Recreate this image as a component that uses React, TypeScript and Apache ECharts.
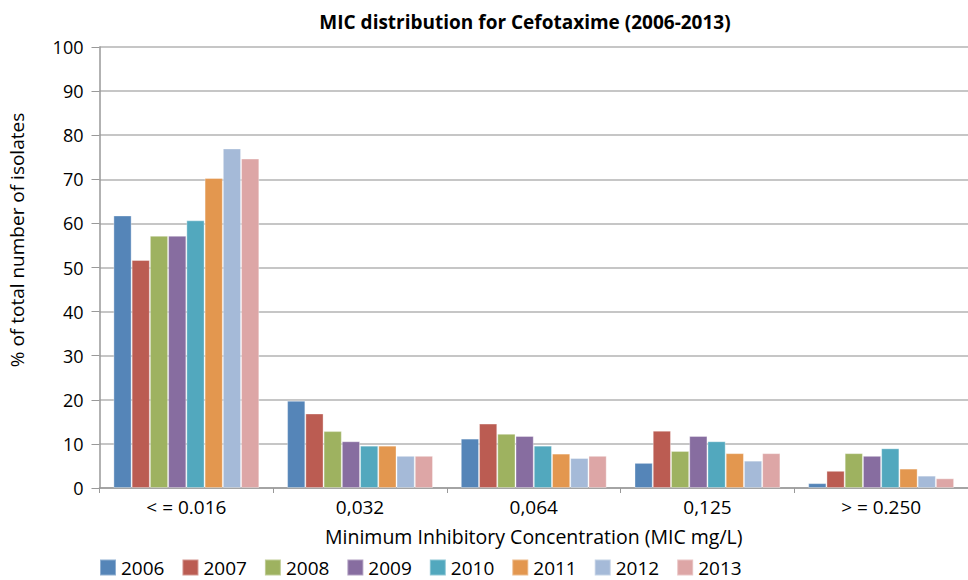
import React, { useEffect, useRef } from "react";
import * as echarts from "echarts";

const categories = ["< = 0.016", "0,032", "0,064", "0,125", "> = 0.250"];
const years = ["2006", "2007", "2008", "2009", "2010", "2011", "2012", "2013"];
const v2006 = [61.8, 19.8, 11.2, 5.7, 1.1];
const v2007 = [51.7, 16.9, 14.6, 13.0, 3.9];
const v2008 = [57.2, 12.9, 12.3, 8.4, 7.9];
const v2009 = [57.2, 10.6, 11.8, 11.8, 7.3];
const v2010 = [60.7, 9.6, 9.6, 10.6, 9.0];
const v2011 = [70.3, 9.6, 7.8, 7.9, 4.4];
const v2012 = [77.0, 7.3, 6.8, 6.2, 2.8];
const v2013 = [74.7, 7.3, 7.3, 7.9, 2.2];
const seriesValues = [v2006, v2007, v2008, v2009, v2010, v2011, v2012, v2013];
const colors = ["#5585B8", "#BB5C52", "#9EB260", "#876DA0", "#52A8BE", "#E3974F", "#A5BAD8", "#DDA6A6"];
const yTicks = { min: 0, max: 100, interval: 10 };

const FONT = "'Open Sans', sans-serif";

export default function App() {
  const ref = useRef<HTMLDivElement>(null);
  useEffect(() => {
    if (!ref.current) return;
    const chart = echarts.init(ref.current, null, { renderer: "svg" });
    chart.setOption({
      animation: false,
      backgroundColor: "#ffffff",
      textStyle: { fontFamily: FONT },
      title: {
        text: "MIC distribution for Cefotaxime (2006-2013)",
        left: 520,
        textAlign: "center",
        top: 7,
        textStyle: { fontFamily: FONT, fontSize: 19, fontWeight: "bold", color: "#000" },
      },
      legend: {
        left: 99,
        top: 558,
        padding: 0,
        itemWidth: 16,
        itemHeight: 16,
        itemGap: 17,
        icon: "rect",
        textStyle: { fontFamily: FONT, fontSize: 19, color: "#000", lineHeight: 16 },
        data: years,
      },
      grid: { left: 99.5, right: 0, top: 47, bottom: 92 },
      xAxis: {
        type: "category",
        data: categories,
        name: "Minimum Inhibitory Concentration (MIC mg/L)",
        nameLocation: "middle",
        nameGap: 38,
        nameTextStyle: { fontFamily: FONT, fontSize: 19.5, color: "#000" },
        axisLine: { lineStyle: { color: "#999", width: 1.5 } },
        axisTick: { show: true, length: 5, lineStyle: { color: "#999" } },
        axisLabel: { fontFamily: FONT, fontSize: 19, color: "#000", margin: 9 },
      },
      yAxis: {
        type: "value",
        min: yTicks.min,
        max: yTicks.max,
        interval: yTicks.interval,
        axisLine: { show: true, lineStyle: { color: "#999", width: 1.5 } },
        axisTick: { show: true, length: 8, lineStyle: { color: "#999" } },
        axisLabel: { fontFamily: FONT, fontSize: 18, color: "#000", margin: 16 },
        splitLine: { lineStyle: { color: "#b3b3b3", width: 1.5 } },
      },
      graphic: [
        {
          type: "text",
          x: 17,
          y: 240,
          rotation: Math.PI / 2,
          style: {
            text: "% of total number of isolates",
            font: `19px ${FONT}`,
            fill: "#000",
            align: "center",
            verticalAlign: "middle",
          },
        },
      ],
      series: years.map((y, i) => ({
        name: y,
        type: "bar",
        data: seriesValues[i],
        barGap: "0%",
        barCategoryGap: "16%",
        itemStyle: { color: colors[i], borderColor: "rgba(255,255,255,0.35)", borderWidth: 1 },
      })),
    });
    return () => chart.dispose();
  }, []);
  return <div ref={ref} style={{ width: 968, height: 580, position: "absolute", left: 0, top: 0 }} />;
}
